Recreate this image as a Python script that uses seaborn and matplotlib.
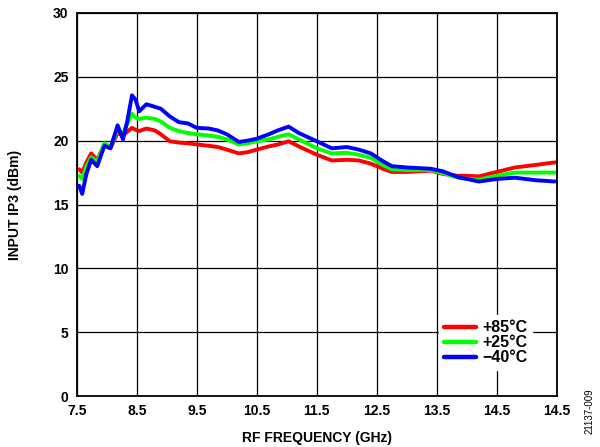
import pandas as pd
import matplotlib
matplotlib.use("Agg")
import matplotlib.pyplot as plt
import seaborn as sns

# RF frequency (axis position, GHz) and input IP3 (dBm) per temperature
freq = [7.54, 7.59, 7.66, 7.74, 7.84, 7.96, 8.06, 8.18, 8.27, 8.34, 8.42, 8.48,
        8.54, 8.66, 8.8, 8.9, 9.05, 9.2, 9.35, 9.5, 9.7, 9.85, 10.0, 10.2,
        10.35, 10.5, 10.7, 10.85, 11.03, 11.2, 11.5, 11.75, 12.0, 12.2, 12.4,
        12.6, 12.75, 13.0, 13.4, 13.6, 13.85, 14.0, 14.2, 14.5, 14.8, 15.15, 15.47]

ip3_85 = [17.76, 17.5, 18.3, 19.0, 18.5, 19.7, 19.4, 20.6, 20.4, 20.7, 21.0, 20.85,
          20.75, 20.95, 20.8, 20.5, 19.95, 19.85, 19.8, 19.7, 19.6, 19.5, 19.3, 19.0,
          19.1, 19.3, 19.55, 19.7, 19.95, 19.55, 18.9, 18.45, 18.5, 18.45, 18.2,
          17.8, 17.55, 17.55, 17.65, 17.4, 17.25, 17.25, 17.2, 17.55, 17.9, 18.1, 18.3]

ip3_25 = [17.24, 17.0, 18.0, 18.7, 18.4, 19.8, 19.5, 20.85, 20.6, 21.3, 22.1, 21.8,
          21.7, 21.8, 21.7, 21.5, 21.0, 20.75, 20.6, 20.5, 20.4, 20.3, 20.1, 19.7,
          19.8, 19.95, 20.1, 20.3, 20.5, 20.1, 19.4, 19.0, 19.05, 18.9, 18.65,
          18.1, 17.75, 17.7, 17.7, 17.45, 17.1, 17.0, 16.95, 17.25, 17.5, 17.5, 17.5]

ip3_m40 = [16.47, 15.83, 17.4, 18.5, 18.0, 19.6, 19.4, 21.2, 20.1, 21.5, 23.55, 23.2,
           22.3, 22.85, 22.65, 22.5, 21.9, 21.45, 21.35, 21.0, 20.95, 20.8, 20.5, 19.9,
           20.0, 20.15, 20.5, 20.8, 21.1, 20.6, 19.95, 19.4, 19.5, 19.3, 19.0,
           18.4, 18.0, 17.9, 17.8, 17.6, 17.15, 17.0, 16.8, 17.0, 17.1, 16.9, 16.8]

temps = ["+85°C", "+25°C", "\u221240°C"]
colors = ["#ff0000", "#00ff00", "#0000ff"]

xticks = [7.5, 8.5, 9.5, 10.5, 11.5, 12.5, 13.5, 14.5, 15.5]
xtick_labels = ["7.5", "8.5", "9.5", "10.5", "11.5", "12.5", "13.5", "14.5", "14.5"]
yticks = [0, 5, 10, 15, 20, 25, 30]

df = pd.concat([
    pd.DataFrame({"freq": freq, "ip3": vals, "temp": t})
    for t, vals in zip(temps, [ip3_85, ip3_25, ip3_m40])
])

sns.set_style("white")
plt.rcParams["font.family"] = ["Liberation Sans", "DejaVu Sans"]
plt.rcParams["font.weight"] = "bold"
plt.rcParams["text.color"] = "black"
plt.rcParams["axes.labelcolor"] = "black"
plt.rcParams["xtick.color"] = "black"
plt.rcParams["ytick.color"] = "black"

fig = plt.figure(figsize=(6, 4.47), dpi=100)
ax = fig.add_axes([0.128, 0.114, 0.8, 0.857])

sns.lineplot(data=df, x="freq", y="ip3", hue="temp", hue_order=temps,
             palette=colors, linewidth=2.8, sort=False, ax=ax)

ax.set_xlim(7.5, 15.5)
ax.set_ylim(0, 30)
ax.set_xticks(xticks)
ax.set_xticklabels(xtick_labels)
ax.set_yticks(yticks)
ax.tick_params(length=0, labelsize=10)
ax.tick_params(axis="x", pad=6)
ax.tick_params(axis="y", pad=6)
for lbl in ax.get_xticklabels() + ax.get_yticklabels():
    lbl.set_fontweight("bold")

ax.grid(True, color="black", linewidth=0.9)
ax.set_axisbelow(True)
for s in ax.spines.values():
    s.set_color("black")
    s.set_linewidth(1.3)

ax.set_xlabel("RF FREQUENCY (GHz)", fontsize=10, fontweight="bold", labelpad=9)
ax.set_ylabel("INPUT IP3 (dBm)", fontsize=10, fontweight="bold", labelpad=22)

leg = ax.legend(loc="lower right", bbox_to_anchor=(0.965, 0.047), frameon=True,
                fontsize=11.5, handlelength=2.0, handletextpad=0.4,
                labelspacing=0.0, borderpad=0.3)
leg.get_frame().set_edgecolor("white")
leg.get_frame().set_facecolor("white")
leg.get_frame().set_alpha(1)
for line in leg.get_lines():
    line.set_linewidth(3.2)
for txt in leg.get_texts():
    txt.set_fontweight("bold")
    txt.set_color("black")

fig.text(0.983, 0.08, "21137-009", rotation=90, fontsize=7,
         fontweight="normal", ha="center", va="center")

fig.savefig("out.png", dpi=100)
